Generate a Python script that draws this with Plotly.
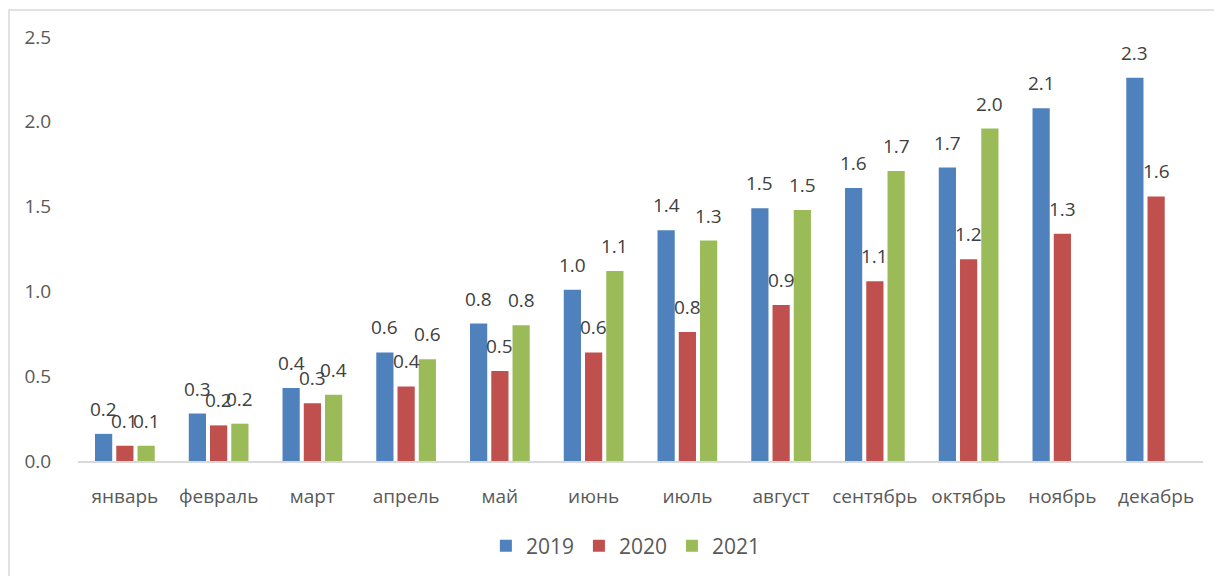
import plotly.graph_objects as go

months = ["январь", "февраль", "март", "апрель", "май", "июнь", "июль",
          "август", "сентябрь", "октябрь", "ноябрь", "декабрь"]
v2019 = [0.16, 0.28, 0.43, 0.64, 0.81, 1.01, 1.36, 1.49, 1.61, 1.73, 2.08, 2.26]
v2020 = [0.09, 0.21, 0.34, 0.44, 0.53, 0.64, 0.76, 0.92, 1.06, 1.19, 1.34, 1.56]
v2021 = [0.09, 0.22, 0.39, 0.60, 0.80, 1.12, 1.30, 1.48, 1.71, 1.96, None, None]
series_names = ["2019", "2020", "2021"]
colors = ["#4f81bd", "#c0504d", "#9bbb59"]

# page body has an 8px margin, so the figure is drawn 8px smaller
W, H = 1214, 568
ML, MR, MT, MB = 70, 19, 29, 115
plot_w = W - ML - MR
plot_h = H - MT - MB
FONT = "Open Sans"
bargap = 0.32
slot = (1 - bargap) * plot_w / len(months) / 3

fig = go.Figure()
annotations = []
for i, (name, vals, col) in enumerate(zip(series_names, [v2019, v2020, v2021], colors)):
    fig.add_trace(go.Bar(x=months, y=vals, name=name, marker_color=col,
                         marker_line_width=0))
    for m, v in zip(months, vals):
        if v is None:
            continue
        annotations.append(dict(x=m, y=v, xref="x", yref="y", text=f"{v:.1f}",
                                showarrow=False, xshift=(i - 1) * slot, yshift=25,
                                font=dict(family=FONT, size=19, color="#404040")))

fig.update_layout(
    width=W, height=H,
    margin=dict(l=ML, r=MR, t=MT, b=MB, autoexpand=False),
    paper_bgcolor="white", plot_bgcolor="white",
    barmode="group", bargap=bargap, bargroupgap=0.19,
    font=dict(family=FONT, size=19, color="#595959"),
    annotations=annotations,
    legend=dict(orientation="h", x=0.487, xanchor="center", y=(0 - 85) / plot_h,
                yanchor="middle", font=dict(family=FONT, size=21, color="#595959"),
                itemwidth=30, traceorder="normal"),
    shapes=[dict(type="rect", xref="paper", yref="paper",
                 x0=(1 - ML) / plot_w, x1=1.05,
                 y0=-0.35, y1=(plot_h + MT - 2) / plot_h,
                 line=dict(color="#d9d9d9", width=1.5), layer="below")],
)
fig.update_xaxes(showline=True, linecolor="#d9d9d9", linewidth=1.5,
                 showgrid=False, ticks="outside", ticklen=17,
                 tickcolor="rgba(0,0,0,0)",
                 tickfont=dict(family=FONT, size=19, color="#595959"))
fig.update_yaxes(range=[0, 2.5], dtick=0.5, tickformat=".1f", showgrid=False,
                 showline=False, zeroline=False, ticks="outside", ticklen=22,
                 tickcolor="rgba(0,0,0,0)",
                 tickfont=dict(family=FONT, size=19, color="#595959"))

fig.write_html("out.html")
